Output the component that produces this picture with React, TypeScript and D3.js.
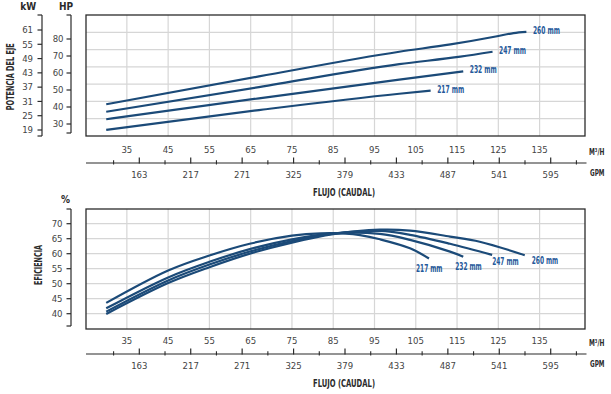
import React from "react";
import * as d3 from "d3";

const WIDTH = 611;
const HEIGHT = 394;
const FONT = "'Liberation Sans Narrow', 'DejaVu Sans Condensed', 'Arial Narrow', sans-serif";

// flujo (caudal)
const flowTicks = [35, 45, 55, 65, 75, 85, 95, 105, 115, 125, 135];
const gpmTicks = [163, 217, 271, 325, 379, 433, 487, 541, 595];
const gpmMinor = [136, 190, 244, 298, 352, 406, 460, 514, 568, 622];

// potencia del eje
const kwTicks = [19, 25, 31, 37, 43, 49, 55, 61];
const hpTicks = [30, 40, 50, 60, 70, 80];

// eficiencia
const effTicks = [40, 45, 50, 55, 60, 65, 70];

const diameters = ["217 mm", "232 mm", "247 mm", "260 mm"];

// [m3/h, HP]
const power217 = [[30, 26.5], [67, 38.2], [101, 47.8], [108.6, 49.6]];
const power232 = [[30, 32.8], [67, 45.1], [101, 56.1], [116.5, 61.0]];
const power247 = [[30, 37.2], [67, 51.7], [101, 65.2], [115.8, 69.6], [123.6, 72.5]];
const power260 = [[30, 41.6], [67, 58.0], [101, 72.5], [113.4, 76.8], [124.7, 81.6], [128.7, 83.5], [131.8, 84.2]];

// [m3/h, %]
const eff217 = [[30, 43.6], [45, 54.4], [55, 59.4], [65, 63.4], [75, 66.0], [82, 66.8], [88, 66.7], [91.5, 66.2], [96.3, 64.8], [103.6, 61.8], [108.2, 58.4]];
const eff232 = [[30, 41.8], [45, 52.1], [55, 57.3], [65, 61.6], [75, 64.8], [85, 66.8], [96.3, 66.6], [103.6, 64.6], [113.3, 60.7], [116.5, 59.0]];
const eff247 = [[30, 40.7], [45, 51.1], [55, 56.4], [65, 60.8], [75, 64.2], [85, 66.7], [96.3, 67.6], [103.6, 66.3], [113.3, 63.3], [123.5, 59.6]];
const eff260 = [[30, 39.9], [45, 50.2], [55, 55.5], [65, 60.1], [75, 63.7], [85, 66.5], [96.3, 68.0], [103.6, 67.7], [113.3, 65.7], [120.5, 64.0], [131.4, 59.5]];

const powerSeries = [power217, power232, power247, power260];
const effSeries = [eff217, eff232, eff247, eff260];

const PLOT_L = 86;
const PLOT_R = 585;
const TOP = { y0: 15, y1: 136, axisY: 163 };
const BOT = { y0: 209, y1: 329, axisY: 354 };

const CURVE = "#1b4a78";
const LABEL = "#25599a";
const GRID = "#d6d6d6";
const DARK = "#2b2b2b";
const TICK_TEXT = "#444";

const x = d3.scaleLinear().domain([25.1, 146]).range([PLOT_L, PLOT_R]);
const gpm = d3.scaleLinear().domain([163, 595]).range([139.3, 550.7]);
const hp = d3.scaleLinear().domain([30, 80]).range([124, 39]);
const kw = d3.scaleLinear().domain([19, 61]).range([130, 30]);
const eff = d3.scaleLinear().domain([40, 70]).range([313.7, 223.7]);

const FlowAxis = ({ y }: { y: number }) => (
  <g fontFamily={FONT}>
    <line x1={PLOT_L} x2={PLOT_R + 1.5} y1={y} y2={y} stroke={DARK} strokeWidth={1.2} />
    {gpmTicks.map((t) => (
      <line key={"M" + t} x1={gpm(t)} x2={gpm(t)} y1={y - 5.5} y2={y + 0.5} stroke={DARK} strokeWidth={1.2} />
    ))}
    {gpmMinor.map((t) => (
      <line key={"m" + t} x1={gpm(t)} x2={gpm(t)} y1={y - 2.7} y2={y + 1.4} stroke={DARK} strokeWidth={1.1} />
    ))}
    {flowTicks.map((t) => (
      <text key={"f" + t} x={x(t)} y={y - 10} textAnchor="middle" fontSize={9.5} fill={TICK_TEXT}>
        {t}
      </text>
    ))}
    {gpmTicks.map((t) => (
      <text key={"g" + t} x={gpm(t)} y={y + 14.5} textAnchor="middle" fontSize={9.5} fill={TICK_TEXT}>
        {t}
      </text>
    ))}
    <text x={589} y={y - 8} fontSize={9} fontWeight="bold" fill={DARK} textLength={15.5} lengthAdjust="spacingAndGlyphs">
      M³/H
    </text>
    <text x={590} y={y + 13} fontSize={9} fontWeight="bold" fill={DARK} textLength={14.5} lengthAdjust="spacingAndGlyphs">
      GPM
    </text>
    <text x={344} y={y + 33} textAnchor="middle" fontSize={10.5} fontWeight="bold" fill={DARK} textLength={62} lengthAdjust="spacingAndGlyphs">
      FLUJO (CAUDAL)
    </text>
  </g>
);

const ValueAxis = ({
  ticks,
  scale,
  axisX,
  top,
  bottom,
  labelX,
}: {
  ticks: number[];
  scale: d3.ScaleLinear<number, number>;
  axisX: number;
  top: number;
  bottom: number;
  labelX: number;
}) => (
  <g fontFamily={FONT}>
    <line x1={axisX} x2={axisX} y1={top} y2={bottom} stroke={DARK} strokeWidth={1.2} />
    {[top, bottom].map((v) => (
      <line key={"e" + v} x1={axisX - 4.5} x2={axisX} y1={v} y2={v} stroke={DARK} strokeWidth={1.2} />
    ))}
    {ticks.map((t) => (
      <g key={t}>
        <line x1={axisX - 4.5} x2={axisX} y1={scale(t)} y2={scale(t)} stroke={DARK} strokeWidth={1.2} />
        <text x={labelX} y={scale(t)} dy="0.35em" textAnchor="end" fontSize={9.5} fill={TICK_TEXT}>
          {t}
        </text>
      </g>
    ))}
  </g>
);

const line = (yScale: d3.ScaleLinear<number, number>, curve: d3.CurveFactory) =>
  d3
    .line<number[]>()
    .x((d) => x(d[0]))
    .y((d) => yScale(d[1]))
    .curve(curve);

// label offsets from each curve end, lower panel
const effLabelOffsets = [
  [-13, 13],
  [-8, 13],
  [0, 10],
  [7, 9],
];

const App = () => {
  const powerLine = line(hp, d3.curveMonotoneX);
  const effLine = line(eff, d3.curveCatmullRom.alpha(0.5));
  const topGrid = d3.range(1, 7).map((i) => TOP.y0 + (i * (TOP.y1 - TOP.y0)) / 7);

  return (
    <svg
      width={WIDTH}
      height={HEIGHT}
      style={{ position: "absolute", left: 0, top: 0, background: "#fff" }}
    >
      {/* ---------- potencia ---------- */}
      <g>
        {flowTicks.map((t) => (
          <line key={t} x1={x(t)} x2={x(t)} y1={TOP.y0} y2={TOP.y1} stroke={GRID} strokeWidth={1.2} />
        ))}
        {topGrid.map((v, i) => (
          <line key={i} x1={PLOT_L} x2={PLOT_R} y1={v} y2={v} stroke={GRID} strokeWidth={1.2} />
        ))}
        <rect x={PLOT_L} y={TOP.y0} width={PLOT_R - PLOT_L} height={TOP.y1 - TOP.y0} fill="none" stroke={DARK} strokeWidth={1.3} />
        {powerSeries.map((s, i) => (
          <path key={i} d={powerLine(s) || ""} fill="none" stroke={CURVE} strokeWidth={2.2} />
        ))}
        {powerSeries.map((s, i) => {
          const end = s[s.length - 1];
          return (
            <text
              key={i}
              x={x(end[0]) + 6.5}
              y={hp(end[1]) - 1.5}
              dy="0.35em"
              fontFamily={FONT}
              fontSize={10}
              fontWeight="bold"
              fill={LABEL}
              textLength={27}
              lengthAdjust="spacingAndGlyphs"
            >
              {diameters[i]}
            </text>
          );
        })}
        <ValueAxis ticks={kwTicks} scale={kw} axisX={42} top={TOP.y0} bottom={TOP.y1} labelX={33} />
        <ValueAxis ticks={hpTicks} scale={hp} axisX={71} top={TOP.y0} bottom={133} labelX={63.5} />
        <text x={28.3} y={9.5} textAnchor="middle" fontFamily={FONT} fontSize={10} fontWeight="bold" fill={DARK}>
          kW
        </text>
        <text x={66} y={9.5} textAnchor="middle" fontFamily={FONT} fontSize={10} fontWeight="bold" fill={DARK}>
          HP
        </text>
        <text
          transform="translate(13.5,76.7) rotate(-90)"
          textAnchor="middle"
          fontFamily={FONT}
          fontSize={11}
          fontWeight="bold"
          fill={DARK}
          textLength={67}
          lengthAdjust="spacingAndGlyphs"
        >
          POTENCIA DEL EJE
        </text>
        <FlowAxis y={TOP.axisY} />
      </g>

      {/* ---------- eficiencia ---------- */}
      <g>
        {flowTicks.map((t) => (
          <line key={t} x1={x(t)} x2={x(t)} y1={BOT.y0} y2={BOT.y1} stroke={GRID} strokeWidth={1.2} />
        ))}
        {effTicks.map((t) => (
          <line key={t} x1={PLOT_L} x2={PLOT_R} y1={eff(t)} y2={eff(t)} stroke={GRID} strokeWidth={1.2} />
        ))}
        <rect x={PLOT_L} y={BOT.y0} width={PLOT_R - PLOT_L} height={BOT.y1 - BOT.y0} fill="none" stroke={DARK} strokeWidth={1.3} />
        {effSeries.map((s, i) => (
          <path key={i} d={effLine(s) || ""} fill="none" stroke={CURVE} strokeWidth={2.2} />
        ))}
        {effSeries.map((s, i) => {
          const end = s[s.length - 1];
          return (
            <text
              key={i}
              x={x(end[0]) + effLabelOffsets[i][0]}
              y={eff(end[1]) + effLabelOffsets[i][1]}
              fontFamily={FONT}
              fontSize={10}
              fontWeight="bold"
              fill={LABEL}
              textLength={26.5}
              lengthAdjust="spacingAndGlyphs"
            >
              {diameters[i]}
            </text>
          );
        })}
        <ValueAxis ticks={effTicks} scale={eff} axisX={71} top={BOT.y0} bottom={326} labelX={62.5} />
        <text x={65.5} y={202.5} textAnchor="middle" fontFamily={FONT} fontSize={10} fontWeight="bold" fill={DARK}>
          %
        </text>
        <text
          transform="translate(41.5,265) rotate(-90)"
          textAnchor="middle"
          fontFamily={FONT}
          fontSize={11}
          fontWeight="bold"
          fill={DARK}
          textLength={40}
          lengthAdjust="spacingAndGlyphs"
        >
          EFICIENCIA
        </text>
        <FlowAxis y={BOT.axisY} />
      </g>
    </svg>
  );
};

export default App;
